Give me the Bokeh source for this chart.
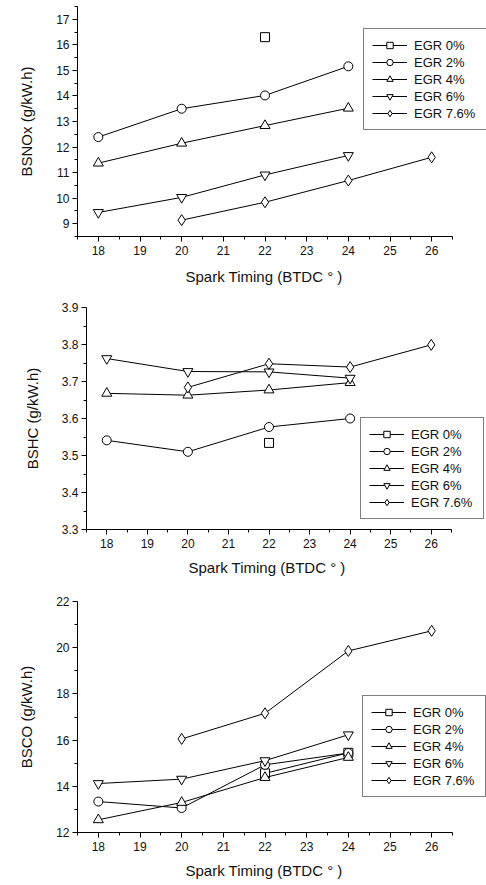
from bokeh.plotting import figure
from bokeh.layouts import column
from bokeh.models import FixedTicker, Legend, LegendItem, Range1d, Title
from bokeh.embed import file_html
from bokeh.resources import INLINE

# ---------------- data ----------------
x_ticks = [18, 19, 20, 21, 22, 23, 24, 25, 26]
x_minor = [17.5, 18.5, 19.5, 20.5, 21.5, 22.5, 23.5, 24.5, 25.5, 26.5]
x_label = "Spark Timing (BTDC \u00b0 )"

series_labels = ["EGR 0%", "EGR 2%", "EGR 4%", "EGR 6%", "EGR 7.6%"]
series_markers = ["square", "circle", "triangle", "inverted_triangle", "diamond"]

# BSNOx
nox_egr0_x = [22]
nox_egr0_y = [16.3]
nox_egr2_x = [18, 20, 22, 24]
nox_egr2_y = [12.39, 13.50, 14.02, 15.16]
nox_egr4_x = [18, 20, 22, 24]
nox_egr4_y = [11.37, 12.15, 12.84, 13.52]
nox_egr6_x = [18, 20, 22, 24]
nox_egr6_y = [9.44, 10.03, 10.91, 11.67]
nox_egr76_x = [20, 22, 24, 26]
nox_egr76_y = [9.14, 9.84, 10.69, 11.60]
nox_yticks = [9, 10, 11, 12, 13, 14, 15, 16, 17]
nox_yminor = [8.5, 9.5, 10.5, 11.5, 12.5, 13.5, 14.5, 15.5, 16.5, 17.5]

# BSHC
hc_egr0_x = [22]
hc_egr0_y = [3.534]
hc_egr2_x = [18, 20, 22, 24]
hc_egr2_y = [3.541, 3.510, 3.577, 3.600]
hc_egr4_x = [18, 20, 22, 24]
hc_egr4_y = [3.668, 3.663, 3.677, 3.697]
hc_egr6_x = [18, 20, 22, 24]
hc_egr6_y = [3.762, 3.727, 3.726, 3.709]
hc_egr76_x = [20, 22, 24, 26]
hc_egr76_y = [3.684, 3.748, 3.739, 3.799]
hc_yticks = [3.3, 3.4, 3.5, 3.6, 3.7, 3.8, 3.9]
hc_yminor = [3.35, 3.45, 3.55, 3.65, 3.75, 3.85]

# BSCO
co_egr0_x = [22, 24]
co_egr0_y = [14.56, 15.45]
co_egr2_x = [18, 20, 22, 24]
co_egr2_y = [13.34, 13.06, 14.93, 15.44]
co_egr4_x = [18, 20, 22, 24]
co_egr4_y = [12.55, 13.30, 14.38, 15.25]
co_egr6_x = [18, 20, 22, 24]
co_egr6_y = [14.12, 14.31, 15.11, 16.23]
co_egr76_x = [20, 22, 24, 26]
co_egr76_y = [16.05, 17.16, 19.86, 20.73]
co_yticks = [12, 14, 16, 18, 20, 22]
co_yminor = [13, 15, 17, 19, 21]

FONT = "Liberation Sans"
LEFT = 77
X_START, X_AXIS_END = 17.5, 26.5


def make_panel(ylabel, xs, ys, yrange, yticks, yminor, width, top, frame_h,
               bottom, axis_px, legend_loc, title_offset, title_standoff,
               shift=0):
    # axis_px: pixel length of the drawn x axis (17.5 .. 26.5); the frame
    # continues to the figure's right edge so the legend may sit beyond it.
    frame_w = width - LEFT
    x_end = X_START + (X_AXIS_END - X_START) * frame_w / axis_px
    p = figure(width=width, height=top + frame_h + bottom,
               output_backend="svg", toolbar_location=None,
               x_range=Range1d(X_START, x_end), y_range=Range1d(*yrange),
               min_border_left=LEFT, min_border_right=0,
               min_border_top=top, min_border_bottom=bottom)
    if shift:
        p.margin = (0, 0, 0, shift)
    p.outline_line_color = None
    p.xgrid.visible = False
    p.ygrid.visible = False
    p.background_fill_color = "white"
    p.border_fill_color = "white"

    p.xaxis.ticker = FixedTicker(ticks=x_ticks, minor_ticks=x_minor)
    p.yaxis.ticker = FixedTicker(ticks=yticks, minor_ticks=yminor)
    p.xaxis.bounds = (X_START, X_AXIS_END)
    p.yaxis.axis_label = ylabel
    for ax in (p.xaxis[0], p.yaxis[0]):
        ax.axis_line_color = "black"
        ax.axis_line_width = 1
        ax.major_tick_line_color = "black"
        ax.minor_tick_line_color = "black"
        ax.major_tick_in = 0
        ax.major_tick_out = 5
        ax.minor_tick_in = 0
        ax.minor_tick_out = 3
        ax.major_label_text_font = FONT
        ax.major_label_text_font_size = "12px"
        ax.major_label_text_color = "#111111"
        ax.axis_label_text_font = FONT
        ax.axis_label_text_font_size = "15px"
        ax.axis_label_text_font_style = "normal"
        ax.axis_label_text_color = "#111111"
    p.xaxis.major_label_standoff = 4
    p.yaxis.major_label_standoff = 3
    p.yaxis.axis_label_standoff = 18

    # x-axis title, placed under the drawn axis line rather than the frame centre
    xt = Title(text=x_label, align="left", offset=title_offset,
               text_font=FONT, text_font_size="15px", text_font_style="normal",
               text_color="#111111", standoff=title_standoff)
    p.add_layout(xt, "below")

    items = []
    for lab, mk, x, y in zip(series_labels, series_markers, xs, ys):
        ln = p.line(x, y, line_color="black", line_width=1)
        sz = 11 if mk == "diamond" else (10 if "triangle" in mk else 9)
        sc = p.scatter(x, y, marker=mk, size=sz, line_color="black",
                       fill_color="white", line_width=1)
        items.append(LegendItem(label=lab, renderers=[ln, sc]))

    leg = Legend(items=items, location=legend_loc, orientation="vertical")
    leg.border_line_color = "black"
    leg.border_line_width = 1
    leg.background_fill_color = "white"
    leg.background_fill_alpha = 1
    leg.label_text_font = FONT
    leg.label_text_font_size = "13px"
    leg.label_text_color = "#111111"
    leg.glyph_width = 35
    leg.glyph_height = 16
    leg.label_height = 16
    leg.label_width = 64
    leg.label_standoff = 7
    leg.spacing = 1
    leg.padding = 8
    leg.margin = 0
    p.add_layout(leg, "center")
    return p


p1 = make_panel("BSNOx (g/kW.h)",
                [nox_egr0_x, nox_egr2_x, nox_egr4_x, nox_egr6_x, nox_egr76_x],
                [nox_egr0_y, nox_egr2_y, nox_egr4_y, nox_egr6_y, nox_egr76_y],
                (8.5, 17.5), nox_yticks, nox_yminor,
                486, 6, 230, 58, 375, (286, 106), 108, 16)
p2 = make_panel("BSHC (g/kW.h)",
                [hc_egr0_x, hc_egr2_x, hc_egr4_x, hc_egr6_x, hc_egr76_x],
                [hc_egr0_y, hc_egr2_y, hc_egr4_y, hc_egr6_y, hc_egr76_y],
                (3.3, 3.9), hc_yticks, hc_yminor,
                477, 13, 222, 55, 365, (274, 10), 102, 13, shift=9)
p3 = make_panel("BSCO (g/kW.h)",
                [co_egr0_x, co_egr2_x, co_egr4_x, co_egr6_x, co_egr76_x],
                [co_egr0_y, co_egr2_y, co_egr4_y, co_egr6_y, co_egr76_y],
                (12, 22), co_yticks, co_yminor,
                486, 17, 231, 53, 375, (285, 35), 108, 12)

layout = column(p1, p2, p3, spacing=0)
open("out.html", "w").write(file_html(layout, INLINE))
